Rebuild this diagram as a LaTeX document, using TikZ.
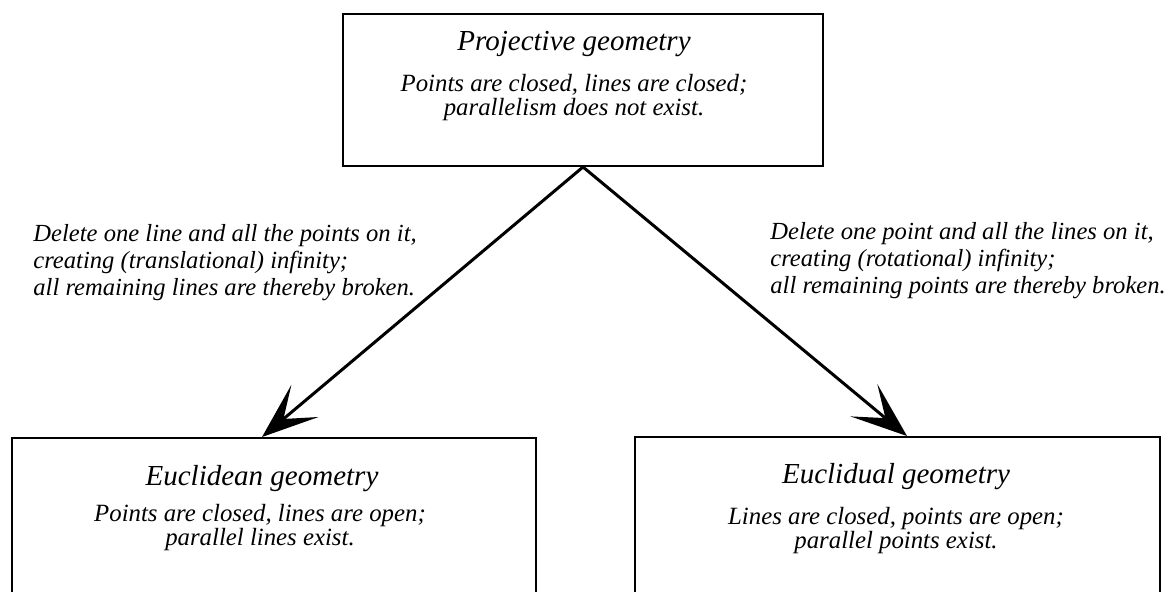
\documentclass[tikz,border=0pt]{standalone}
\usepackage{fontspec}
\setmainfont{Liberation Serif}
\usetikzlibrary{arrows.meta}
\usetikzlibrary{positioning}

\begin{document}
\begin{tikzpicture}[x=0.5pt,y=-0.5pt,
    frame/.style={draw,line width=1pt,rectangle,inner sep=0pt},
    title/.style={font=\fontsize{14.5}{18}\selectfont\itshape,inner sep=0pt,anchor=base},
    body/.style={font=\fontsize{12.4}{12}\selectfont\itshape,inner sep=0pt,align=center,anchor=base},
    note/.style={font=\fontsize{12.3}{13.5}\selectfont\itshape,inner sep=0pt,align=left,anchor=base west},
    link/.style={draw,line width=1.5pt,-{Stealth[length=28pt,width=21pt,inset=14pt]}}]

  \useasboundingbox (0,0) rectangle (1172,591);
  \clip (0,0) rectangle (1172,591);

  % boxes
  \node [frame,minimum width=240pt,minimum height=76pt] (proj) at (583,90) {};
  \node [frame,minimum width=262pt,minimum height=100pt] (eucl) at (274,538) {};
  \node [frame,minimum width=262.5pt,minimum height=100pt] (dual) at (897.5,537) {};

  % texts in the boxes (base = last line)
  \node [title] (projtitle) at (574,50) {Projective geometry};
  \node [body]  (projbody)  at (574,115) {Points are closed, lines are closed;\\parallelism does not exist.};

  \node [title] (eucltitle) at (262,485) {Euclidean geometry};
  \node [body]  (euclbody)  at (260,545) {Points are closed, lines are open;\\parallel lines exist.};

  \node [title] (dualtitle) at (896,483) {Euclidual geometry};
  \node [body]  (dualbody)  at (896,548) {Lines are closed, points are open;\\parallel points exist.};

  % notes on the arrows
  \node [note] (euclnote) at (33,295) {Delete one line and all the points on it,\\creating (translational) infinity;\\all remaining lines are thereby broken.};
  \node [note] (dualnote) at (770,293) {Delete one point and all the lines on it,\\creating (rotational) infinity;\\all remaining points are thereby broken.};

  \draw [link] (proj.south) -- (eucltitle.north |- eucl.north);
  \draw [link] (proj.south) -- ([xshift=5.5pt]dualtitle.north |- dual.north);

\end{tikzpicture}
\end{document}
